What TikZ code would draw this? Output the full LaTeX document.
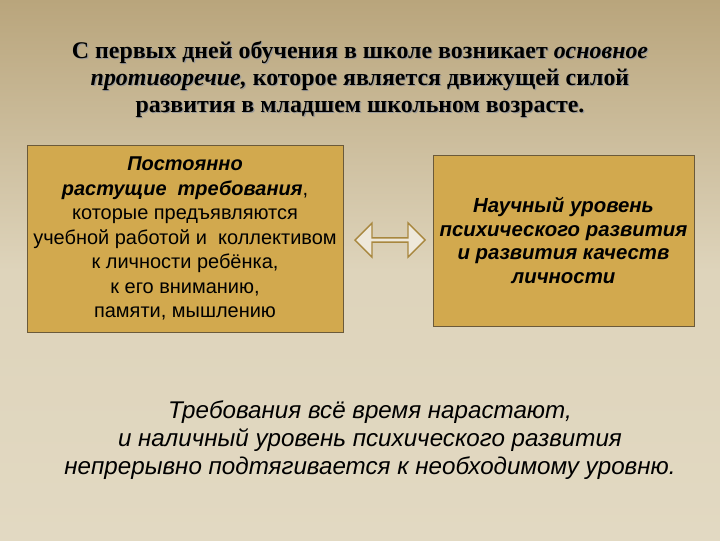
\documentclass[tikz,border=0pt]{standalone}
\usepackage{fontspec}
\setmainfont{Liberation Serif}
\newfontfamily\arialf{Liberation Sans}
\usetikzlibrary{shapes.arrows}
\definecolor{bgtop}{HTML}{B9A57C}
\definecolor{bgbot}{HTML}{E2D9C2}
\definecolor{boxfill}{HTML}{D2A94E}
\definecolor{boxline}{HTML}{6B5A3A}
\begin{document}
\begin{tikzpicture}[x=0.025cm,y=-0.025cm,
  box/.style={draw=boxline,fill=boxfill,line width=0.6pt,align=center,font=\arialf\fontsize{14.2}{17.4}\selectfont},
  ttl/.style={align=center,font=\bfseries\fontsize{17}{19.2}\selectfont},
  bottomtext/.style={align=center,font=\arialf\itshape\fontsize{17.2}{19.9}\selectfont}]
\shade[top color=bgtop,bottom color=bgbot,middle color=bgbot!90!bgtop] (0,0) rectangle (720,540);
\useasboundingbox (0,0) rectangle (720,540);
\node[ttl,text=black!40] at (361.2,80.7) {С первых дней обучения в школе возникает \textit{основное}\\\textit{противоречие,} которое является движущей силой\\развития в младшем школьном возрасте.};
\node[ttl] (title) at (360,79.5) {С первых дней обучения в школе возникает \textit{основное}\\\textit{противоречие,} которое является движущей силой\\развития в младшем школьном возрасте.};
\node[box,minimum width=7.9cm,minimum height=4.675cm,inner sep=0pt] (left) at (185,238.5)
 {\textbf{\textit{Постоянно}}\\ \textbf{\textit{растущие\ \ требования}},\\которые предъявляются\\учебной работой и\ \ коллективом\\к личности ребёнка,\\к его вниманию,\\памяти, мышлению};
\node[box,font=\arialf\bfseries\itshape\fontsize{14.5}{16.8}\selectfont,minimum width=6.525cm,minimum height=4.275cm,inner sep=0pt] (right) at (563.5,240.5)
 {Научный уровень\\психического развития\\ и развития качеств\\личности};
\node[double arrow,draw=boxfill!80!black,fill=bgbot!60!white,line width=1pt,minimum width=0.85cm,double arrow head extend=0.12cm,minimum height=1.75cm,inner sep=0pt] (arr) at (390,240) {};
\node[bottomtext] (bottom) at (370,440) {Требования всё время нарастают,\\и наличный уровень психического развития\\непрерывно подтягивается к необходимому уровню.};
\end{tikzpicture}
\end{document}
